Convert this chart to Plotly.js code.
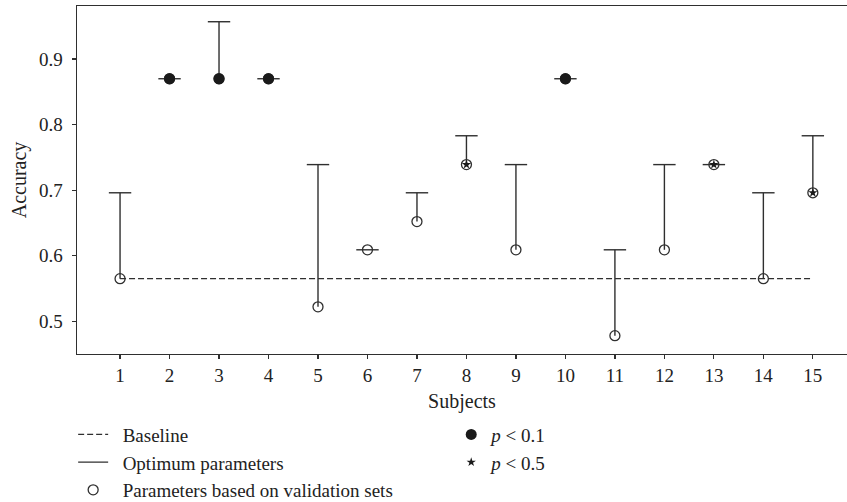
<!DOCTYPE html>
<html>
<head>
<meta charset="utf-8">
<script src="https://cdn.plot.ly/plotly-3.0.1.min.js"></script>
<style>
  html, body { margin: 0; padding: 0; background: #fff; }
  #chart { width: 847px; height: 502px; }
</style>
</head>
<body>
<div id="chart"></div>
<script>
// ---- data ----
const subjects   = [1, 2, 3, 4, 5, 6, 7, 8, 9, 10, 11, 12, 13, 14, 15];
const validation = [0.565, 0.870, 0.870, 0.870, 0.522, 0.609, 0.652, 0.739, 0.609, 0.870, 0.478, 0.609, 0.739, 0.565, 0.696];
const optimum    = [0.696, 0.870, 0.957, 0.870, 0.739, 0.609, 0.696, 0.783, 0.739, 0.870, 0.609, 0.739, 0.739, 0.696, 0.783];
const baseline   = 0.565;
const significance = ['', 'p01', 'p01', 'p01', '', '', '', 'p05', '', 'p01', '', '', 'p05', '', 'p05'];
const yTicks = [0.5, 0.6, 0.7, 0.8, 0.9];
const legendLabels = {
  baseline: 'Baseline',
  optimum: 'Optimum parameters',
  validation: 'Parameters based on validation sets',
  p01: '<i>p</i> < 0.1',
  p05: '<i>p</i> < 0.5'
};

// ---- styling ----
const INK = '#2f2f2f';
const TXT = '#222';
const FONT = 'Liberation Serif, Times New Roman, serif';
const PAD = '\u00a0\u00a0';

// vertical stems from validation value up to optimum value
const stemX = [], stemY = [];
subjects.forEach((s, i) => {
  stemX.push(s, s, null);
  stemY.push(validation[i], optimum[i], null);
});

const pick = (arr, key) => arr.filter((_, i) => significance[i] === key);

const traces = [
  {
    name: PAD + legendLabels.baseline,
    x: [subjects[0], subjects[subjects.length - 1]],
    y: [baseline, baseline],
    mode: 'lines',
    line: { color: INK, width: 1.2, dash: '6px,3px' },
    legend: 'legend', legendgroup: 'a', hoverinfo: 'skip'
  },
  {
    name: PAD + legendLabels.optimum,
    x: stemX, y: stemY,
    mode: 'lines',
    line: { color: INK, width: 1.4 },
    connectgaps: false,
    legend: 'legend', legendgroup: 'b', hoverinfo: 'skip'
  },
  {
    name: 'caps',
    x: subjects, y: optimum,
    mode: 'markers',
    marker: { symbol: 'line-ew', size: 16, line: { color: INK, width: 1.4 } },
    showlegend: false, hoverinfo: 'skip'
  },
  {
    name: PAD + legendLabels.validation,
    x: subjects, y: validation,
    mode: 'markers',
    marker: { symbol: 'circle-open', size: 10, color: INK, line: { color: INK, width: 1.3 } },
    legend: 'legend', legendgroup: 'c'
  },
  {
    name: legendLabels.p01,
    x: pick(subjects, 'p01'), y: pick(validation, 'p01'),
    mode: 'markers',
    marker: { symbol: 'circle', size: 11, color: '#1a1a1a' },
    legend: 'legend2', legendgroup: 'd'
  },
  {
    name: legendLabels.p05,
    x: pick(subjects, 'p05'), y: pick(validation, 'p05'),
    mode: 'markers',
    marker: { symbol: 'star', size: 7, color: '#1a1a1a' },
    legend: 'legend2', legendgroup: 'e'
  }
];

const legendCommon = {
  font: { family: FONT, size: 19, color: TXT },
  bgcolor: 'rgba(0,0,0,0)',
  borderwidth: 0,
  traceorder: 'grouped',
  tracegroupgap: 0,
  yanchor: 'top',
  xanchor: 'left'
};

const layout = {
  width: 847, height: 502,
  margin: { l: 77, r: 0, t: 6, b: 148, autoexpand: false },
  paper_bgcolor: '#fff', plot_bgcolor: '#fff',
  font: { family: FONT, size: 19, color: TXT },
  showlegend: true,
  xaxis: {
    range: [0.13, 15.69],
    tickvals: subjects,
    ticktext: subjects.map(String),
    ticks: 'outside', ticklen: 4, tickwidth: 1.2, tickcolor: INK,
    ticklabelstandoff: 0,
    showline: true, mirror: true, linecolor: INK, linewidth: 1.4,
    showgrid: false, zeroline: false, automargin: false,
    tickfont: { family: FONT, size: 19, color: TXT },
    title: { text: 'Subjects', font: { family: FONT, size: 20, color: TXT }, standoff: 8 }
  },
  yaxis: {
    range: [0.45, 0.981],
    tickvals: yTicks,
    ticktext: yTicks.map(v => v.toFixed(1)),
    ticks: 'outside', ticklen: 4, tickwidth: 1.2, tickcolor: INK,
    ticklabelstandoff: 5,
    showline: true, mirror: false, linecolor: INK, linewidth: 1.4,
    showgrid: false, zeroline: false, automargin: false,
    tickfont: { family: FONT, size: 19, color: TXT },
    title: { text: 'Accuracy', font: { family: FONT, size: 20, color: TXT }, standoff: 7 }
  },
  legend: Object.assign({}, legendCommon, { x: -0.005, y: -0.177 }),
  legend2: Object.assign({}, legendCommon, { x: 0.486, y: -0.177 })
};

Plotly.newPlot('chart', traces, layout, { displayModeBar: false, staticPlot: true });
</script>
</body>
</html>
